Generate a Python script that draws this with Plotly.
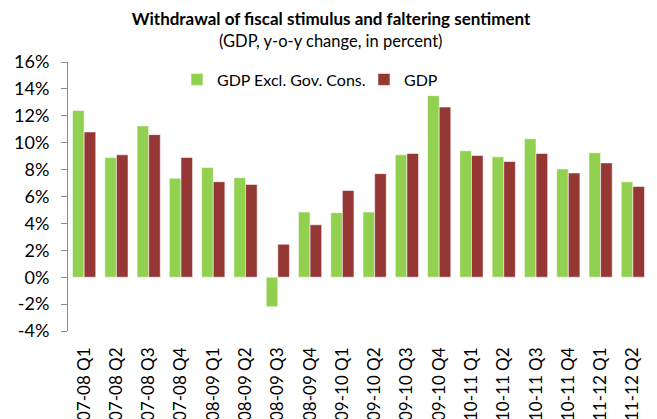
import plotly.graph_objects as go

# Quarterly real GDP growth, y-o-y (%)
quarters = [
    "2007-08 Q1", "2007-08 Q2", "2007-08 Q3", "2007-08 Q4",
    "2008-09 Q1", "2008-09 Q2", "2008-09 Q3", "2008-09 Q4",
    "2009-10 Q1", "2009-10 Q2", "2009-10 Q3", "2009-10 Q4",
    "2010-11 Q1", "2010-11 Q2", "2010-11 Q3", "2010-11 Q4",
    "2011-12 Q1", "2011-12 Q2",
]
gdp_excl_gov = [12.4, 8.9, 11.25, 7.35, 8.15, 7.4, -2.2, 4.85, 4.8, 4.85,
                9.1, 13.5, 9.4, 8.95, 10.3, 8.05, 9.25, 7.1]
gdp = [10.8, 9.1, 10.6, 8.9, 7.1, 6.9, 2.45, 3.9, 6.45, 7.7,
       9.2, 12.65, 9.05, 8.6, 9.2, 7.75, 8.5, 6.75]

y_ticks = [-4, -2, 0, 2, 4, 6, 8, 10, 12, 14, 16]
y_tick_labels = [f"{v}%" for v in y_ticks]

FONT = "Lato"
AXIS_GREY = "#8c8c8c"
y_min, y_max = y_ticks[0], y_ticks[-1]
n = len(quarters)

fig = go.Figure()
fig.add_trace(go.Bar(
    x=quarters, y=gdp_excl_gov, name="GDP Excl. Gov. Cons.",
    marker=dict(color="#92D050", line=dict(color="rgba(255,255,255,0.55)", width=1)),
))
fig.add_trace(go.Bar(
    x=quarters, y=gdp, name="GDP",
    marker=dict(color="#953735", line=dict(color="rgba(255,255,255,0.55)", width=1)),
))

fig.update_layout(
    width=657, height=419,
    margin=dict(l=68, r=8, t=62, b=88, autoexpand=False),
    paper_bgcolor="white", plot_bgcolor="white",
    font=dict(family=FONT, color="#000000"),
    barmode="group", bargap=0.28, bargroupgap=0,
    title=dict(
        text="<b>Withdrawal of fiscal stimulus and faltering sentiment</b>",
        font=dict(size=17, family=FONT, color="#000000"),
        x=0.4527, xanchor="center", xref="paper",
        y=1 - 19 / 419, yanchor="middle", yref="container",
    ),
    annotations=[dict(
        text="(GDP, y-o-y change, in percent)",
        xref="paper", yref="paper", x=0.4527, y=1.077,
        xanchor="center", yanchor="middle", showarrow=False,
        font=dict(size=16.5, family=FONT, color="#000000"),
    )],
    showlegend=True,
    legend=dict(
        orientation="h", x=0.1876, xanchor="left", y=0.935, yanchor="middle",
        font=dict(size=16, family=FONT, color="#000000"),
        bgcolor="rgba(0,0,0,0)", traceorder="normal",
        entrywidth=142, entrywidthmode="pixels",
    ),
    xaxis=dict(
        type="category", categoryarray=quarters, range=[-0.5, n - 0.5],
        showline=False, showgrid=False, ticks="", tickangle=-90,
        tickfont=dict(size=17, family=FONT, color="#000000"),
        ticklabelstandoff=12, automargin=False, fixedrange=True,
    ),
    xaxis2=dict(
        overlaying="x", anchor="free",
        position=(0 - y_min) / (y_max - y_min),
        range=[-0.5, n - 0.5], tickmode="array",
        tickvals=[i - 0.5 for i in range(n + 1)],
        showticklabels=False, showgrid=False, zeroline=False,
        showline=True, linecolor=AXIS_GREY, linewidth=1,
        ticks="outside", ticklen=6, tickcolor=AXIS_GREY, tickwidth=1,
    ),
    yaxis=dict(
        range=[y_min, y_max], tickmode="array", tickvals=y_ticks,
        ticktext=y_tick_labels, showgrid=False, zeroline=False,
        showline=True, linecolor=AXIS_GREY, linewidth=1,
        ticks="outside", ticklen=6, tickcolor=AXIS_GREY, tickwidth=1,
        tickfont=dict(size=18, family=FONT, color="#000000"),
        ticklabelstandoff=8, automargin=False, fixedrange=True,
    ),
)

fig.write_html("out.html")
